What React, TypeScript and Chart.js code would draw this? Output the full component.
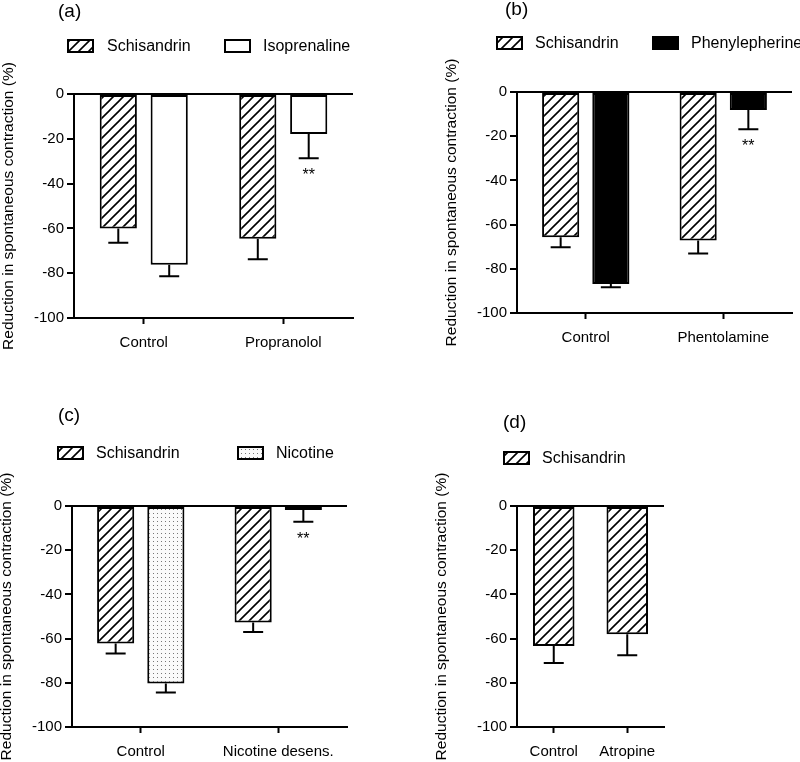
import React, { useEffect, useRef } from 'react';
import { Chart, registerables } from 'chart.js';
Chart.register(...registerables);

const FONT = "'Liberation Sans', Arial, Helvetica, sans-serif";

// ---------- data ----------
const yAxisTitle = 'Reduction in spontaneous contraction (%)';
const yMin = -100;
const yMax = 0;
const yStep = 20;

const catsA = ['Control', 'Propranolol'];
const schisA = [-60.0, -64.6];
const schisErrA = [6.4, 9.2];
const isoA = [-76.2, -17.9];
const isoErrA = [5.2, 10.8];
const isoSigA = ['', '**'];

const catsB = ['Control', 'Phentolamine'];
const schisB = [-65.7, -67.2];
const schisErrB = [4.5, 5.9];
const pheB = [-86.9, -8.1];
const pheErrB = [1.4, 8.7];
const pheSigB = ['', '**'];

const catsC = ['Control', 'Nicotine desens.'];
const schisC = [-62.2, -52.7];
const schisErrC = [4.5, 4.3];
const nicC = [-80.3, -1.8];
const nicErrC = [4.1, 5.3];
const nicSigC = ['', '**'];

const catsD = ['Control', 'Atropine'];
const schisD = [-63.4, -58.0];
const schisErrD = [7.6, 9.5];

// ---------- patterns ----------
function makeHatch(ctx: CanvasRenderingContext2D) {
  const s = 10;
  const c = document.createElement('canvas');
  c.width = s; c.height = s;
  const g = c.getContext('2d')!;
  g.fillStyle = '#fff';
  g.fillRect(0, 0, s, s);
  g.strokeStyle = '#000';
  g.lineWidth = 1.6;
  g.beginPath();
  g.moveTo(-1, s + 1); g.lineTo(s + 1, -1);
  g.moveTo(-2, 2); g.lineTo(2, -2);
  g.moveTo(s - 2, s + 2); g.lineTo(s + 2, s - 2);
  g.stroke();
  return ctx.createPattern(c, 'repeat')!;
}
function makeDots(ctx: CanvasRenderingContext2D) {
  const s = 4;
  const c = document.createElement('canvas');
  c.width = s; c.height = s;
  const g = c.getContext('2d')!;
  g.fillStyle = '#fafafa';
  g.fillRect(0, 0, s, s);
  g.fillStyle = '#777';
  g.fillRect(1, 1, 1, 1);
  return ctx.createPattern(c, 'repeat')!;
}

type Fill = 'hatch' | 'white' | 'black' | 'dots';

interface SeriesSpec { label: string; data: number[]; errors: number[]; sig?: string[]; fill: Fill; }
interface PanelSpec {
  title: string; cats: string[]; series: SeriesSpec[];
  x: number; y: number; w: number; h: number;
  left: number; right: number; top: number; bottom: number;
  yTitleX: number; titleX: number; titleY: number;
  legendY: number; legend: { box: number; text: number }[];
  catPct: number; barPct: number;
}

const panels: PanelSpec[] = [
  {
    title: '(a)', cats: catsA,
    series: [
      { label: 'Schisandrin', data: schisA, errors: schisErrA, fill: 'hatch' },
      { label: 'Isoprenaline', data: isoA, errors: isoErrA, sig: isoSigA, fill: 'white' },
    ],
    x: 0, y: 0, w: 400, h: 380, left: 74, right: 353, top: 94, bottom: 318,
    yTitleX: 8.5, titleX: 58, titleY: 12, legendY: 46,
    legend: [{ box: 68, text: 107 }, { box: 225, text: 263 }], catPct: 0.73, barPct: 0.73,
  },
  {
    title: '(b)', cats: catsB,
    series: [
      { label: 'Schisandrin', data: schisB, errors: schisErrB, fill: 'hatch' },
      { label: 'Phenylepherine', data: pheB, errors: pheErrB, sig: pheSigB, fill: 'black' },
    ],
    x: 400, y: 0, w: 400, h: 380, left: 117, right: 392, top: 92, bottom: 313,
    yTitleX: 52, titleX: 105, titleY: 10, legendY: 43,
    legend: [{ box: 97, text: 135 }, { box: 253, text: 291 }], catPct: 0.73, barPct: 0.74,
  },
  {
    title: '(c)', cats: catsC,
    series: [
      { label: 'Schisandrin', data: schisC, errors: schisErrC, fill: 'hatch' },
      { label: 'Nicotine', data: nicC, errors: nicErrC, sig: nicSigC, fill: 'dots' },
    ],
    x: 0, y: 380, w: 400, h: 382, left: 72, right: 347, top: 126, bottom: 347,
    yTitleX: 7, titleX: 58, titleY: 36, legendY: 73,
    legend: [{ box: 58, text: 96 }, { box: 238, text: 276 }], catPct: 0.73, barPct: 0.74,
  },
  {
    title: '(d)', cats: catsD,
    series: [
      { label: 'Schisandrin', data: schisD, errors: schisErrD, fill: 'hatch' },
    ],
    x: 400, y: 380, w: 400, h: 382, left: 117, right: 264, top: 126, bottom: 347,
    yTitleX: 42, titleX: 103, titleY: 43, legendY: 78,
    legend: [{ box: 104, text: 142 }], catPct: 1, barPct: 0.565,
  },
];

const decorPlugin = {
  id: 'decor',
  afterDraw(chart: any, _args: any, opts: any) {
    const ctx = chart.ctx as CanvasRenderingContext2D;
    ctx.save();
    ctx.fillStyle = '#000';
    ctx.textAlign = 'left';
    ctx.textBaseline = 'middle';
    ctx.font = `19px ${FONT}`;
    ctx.fillText(opts.title, opts.titleX, opts.titleY);
    chart.data.datasets.forEach((ds: any, i: number) => {
      const it = opts.legend[i];
      if (!it) return;
      const by = opts.legendY - 6;
      ctx.fillStyle = ds.backgroundColor;
      ctx.fillRect(it.box, by, 25, 12);
      ctx.lineWidth = 2;
      ctx.strokeStyle = '#000';
      ctx.strokeRect(it.box, by, 25, 12);
      ctx.fillStyle = '#000';
      ctx.font = `16px ${FONT}`;
      ctx.textBaseline = 'middle';
      ctx.fillText(ds.label, it.text, opts.legendY + 1);
    });
    ctx.restore();
  },
};

const errorPlugin = {
  id: 'errbars',
  afterDatasetsDraw(chart: any) {
    const ctx = chart.ctx as CanvasRenderingContext2D;
    const ys = chart.scales.y;
    ctx.save();
    ctx.strokeStyle = '#000';
    ctx.fillStyle = '#000';
    ctx.lineWidth = 2;
    chart.data.datasets.forEach((ds: any, di: number) => {
      const meta = chart.getDatasetMeta(di);
      meta.data.forEach((bar: any, i: number) => {
        const v = ds.data[i];
        const e = ds.errors[i];
        const y0 = ys.getPixelForValue(v);
        const y1 = ys.getPixelForValue(v - e);
        ctx.beginPath();
        ctx.moveTo(bar.x, y0);
        ctx.lineTo(bar.x, y1);
        ctx.moveTo(bar.x - 10, y1);
        ctx.lineTo(bar.x + 10, y1);
        ctx.stroke();
        if (ds.sig && ds.sig[i]) {
          ctx.font = `16px ${FONT}`;
          ctx.textAlign = 'center';
          ctx.textBaseline = 'alphabetic';
          ctx.fillText(ds.sig[i], bar.x, y1 + 22);
        }
      });
    });
    ctx.restore();
  },
};

function buildConfig(p: PanelSpec, ctx: CanvasRenderingContext2D): any {
  const fills: Record<Fill, any> = {
    hatch: makeHatch(ctx), white: '#fff', black: '#000', dots: makeDots(ctx),
  };
  const xAxisH = 40;
  const titleHalf = 15.5 * 1.2 / 2;
  return {
    type: 'bar',
    data: {
      labels: p.cats,
      datasets: p.series.map((s) => ({
        label: s.label, data: s.data, errors: s.errors, sig: s.sig,
        backgroundColor: fills[s.fill], borderColor: '#000', borderWidth: 2,
        borderSkipped: false, categoryPercentage: p.catPct, barPercentage: p.barPct,
      })),
    },
    options: {
      responsive: false, animation: false, devicePixelRatio: 1,
      layout: { padding: { left: 0, top: p.top, right: p.w - p.right, bottom: p.h - p.bottom - xAxisH } },
      plugins: {
        legend: { display: false }, tooltip: { enabled: false },
        decor: { title: p.title, titleX: p.titleX, titleY: p.titleY, legendY: p.legendY, legend: p.legend },
      },
      scales: {
        x: {
          offset: true,
          grid: { display: true, offset: false, drawOnChartArea: false, color: 'rgba(0,0,0,0)', tickColor: '#000', tickLength: 6, tickWidth: 2 },
          border: { display: true, color: '#000', width: 2 },
          ticks: { color: '#000', font: { size: 15, family: FONT }, padding: 10, maxRotation: 0, autoSkip: false },
          afterFit: (s: any) => { s.height = xAxisH; },
        },
        y: {
          min: yMin, max: yMax,
          ticks: { stepSize: yStep, color: '#000', font: { size: 15, family: FONT }, padding: 3 },
          grid: {
            color: (c: any) => (c.tick && c.tick.value === 0 ? '#000' : 'rgba(0,0,0,0)'),
            lineWidth: 2, tickColor: '#000', tickLength: 7, tickWidth: 2,
          },
          border: { display: true, color: '#000', width: 2 },
          title: {
            display: true, text: yAxisTitle, color: '#000',
            font: { size: 15.5, family: FONT }, padding: { top: p.yTitleX - titleHalf, bottom: 0 },
          },
          afterFit: (s: any) => { s.width = p.left; },
        },
      },
    },
    plugins: [decorPlugin, errorPlugin],
  };
}

function Panel({ p }: { p: PanelSpec }) {
  const ref = useRef<HTMLCanvasElement>(null);
  useEffect(() => {
    const cv = ref.current!;
    const chart = new Chart(cv, buildConfig(p, cv.getContext('2d')!));
    return () => chart.destroy();
  }, [p]);
  return (
    <div style={{ position: 'absolute', left: p.x, top: p.y, width: p.w, height: p.h }}>
      <canvas ref={ref} width={p.w} height={p.h} style={{ width: p.w, height: p.h, display: 'block' }} />
    </div>
  );
}

export default function App() {
  return (
    <div style={{ position: 'fixed', left: 0, top: 0, width: 800, height: 762, background: '#fff', overflow: 'hidden' }}>
      {panels.map((p) => <Panel key={p.title} p={p} />)}
    </div>
  );
}
